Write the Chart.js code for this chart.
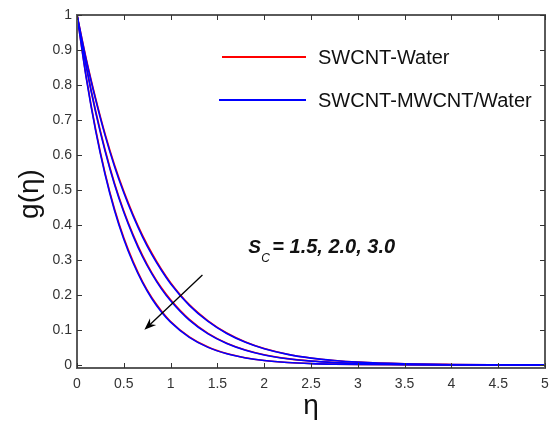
<!DOCTYPE html>
<html>
<head>
<meta charset="utf-8">
<script src="https://cdn.jsdelivr.net/npm/chart.js@4/dist/chart.umd.min.js"></script>
<style>
  html, body { margin: 0; padding: 0; background: #fff; overflow: hidden; }
  #wrap { width: 549px; height: 423px; position: relative; }
  canvas { display: block; }
</style>
</head>
<body>
<div id="wrap"><canvas id="gChart"></canvas></div>
<script>
// --- data ---
const eta = [0, 0.1, 0.2, 0.3, 0.4, 0.5, 0.6, 0.7, 0.8, 0.9, 1.0, 1.2, 1.4, 1.6, 1.8, 2.0, 2.25, 2.5, 2.75, 3.0, 3.5, 4.0, 4.5, 5.0];

// Sc = 3.0 (lowest curve)
const hybridSc30 = [1, 0.818, 0.668, 0.544, 0.442, 0.359, 0.291, 0.235, 0.189, 0.152, 0.122, 0.0786, 0.050, 0.0316, 0.0198, 0.0123, 0.0067, 0.0036, 0.0019, 0.001, 0.0002, 0, 0, 0];
const waterSc30  = [1, 0.821, 0.672, 0.548, 0.446, 0.363, 0.295, 0.238, 0.192, 0.155, 0.124, 0.080, 0.051, 0.0323, 0.0203, 0.0126, 0.0069, 0.0037, 0.002, 0.001, 0.0002, 0, 0, 0];
// Sc = 2.0
const hybridSc20 = [1, 0.850, 0.721, 0.611, 0.516, 0.436, 0.368, 0.309, 0.260, 0.218, 0.183, 0.1276, 0.0885, 0.061, 0.0418, 0.0284, 0.0174, 0.0106, 0.0064, 0.0038, 0.0013, 0.0004, 0.0001, 0];
const waterSc20  = [1, 0.853, 0.725, 0.615, 0.520, 0.440, 0.372, 0.313, 0.263, 0.221, 0.186, 0.130, 0.090, 0.062, 0.0426, 0.029, 0.0178, 0.0108, 0.0066, 0.0039, 0.0013, 0.0004, 0.0001, 0];
// Sc = 1.5 (highest curve)
const hybridSc15 = [1, 0.870, 0.757, 0.656, 0.568, 0.492, 0.425, 0.366, 0.315, 0.271, 0.232, 0.170, 0.124, 0.0896, 0.0644, 0.046, 0.030, 0.0193, 0.0123, 0.0077, 0.003, 0.0011, 0.0004, 0.0001];
const waterSc15  = [1, 0.873, 0.761, 0.660, 0.572, 0.496, 0.429, 0.370, 0.319, 0.274, 0.235, 0.172, 0.126, 0.091, 0.0655, 0.0468, 0.0305, 0.0197, 0.0125, 0.0078, 0.003, 0.0011, 0.0004, 0.0001];

const xTicks = [0, 0.5, 1, 1.5, 2, 2.5, 3, 3.5, 4, 4.5, 5];
const yTicks = [0, 0.1, 0.2, 0.3, 0.4, 0.5, 0.6, 0.7, 0.8, 0.9, 1];
const legendLabels = ['SWCNT-Water', 'SWCNT-MWCNT/Water'];
const annotationText = '= 1.5, 2.0, 3.0';
// arrow in data units: [eta, g] start -> tip
const arrowFrom = [1.34, 0.257];
const arrowTo = [0.72, 0.100];

const RED = '#ff0000';
const BLUE = '#0000ff';
const FONT = '"Liberation Sans", Arial, sans-serif';

function toPoints(ys) {
    return eta.map((x, i) => ({ x: x, y: ys[i] }));
}

function curve(ys, color, order) {
    return {
        data: toPoints(ys),
        borderColor: color,
        borderWidth: 1.6,
        pointRadius: 0,
        fill: false,
        cubicInterpolationMode: 'monotone',
        order: order
    };
}

// frame, inward ticks, titles, legend, annotation
const decorPlugin = {
    id: 'decor',
    afterDraw(chart) {
        const ctx = chart.ctx;
        const xs = chart.scales.x, ys = chart.scales.y;
        const a = chart.chartArea;
        ctx.save();

        // box
        ctx.strokeStyle = '#5a5a5a';
        ctx.lineWidth = 2;
        ctx.strokeRect(a.left, a.top, a.right - a.left, a.bottom - a.top);

        // inward ticks
        ctx.strokeStyle = '#333';
        ctx.lineWidth = 1;
        ctx.beginPath();
        xTicks.forEach(v => {
            const px = Math.round(xs.getPixelForValue(v)) + 0.5;
            ctx.moveTo(px, a.bottom); ctx.lineTo(px, a.bottom - 5);
            ctx.moveTo(px, a.top); ctx.lineTo(px, a.top + 5);
        });
        yTicks.forEach(v => {
            const py = Math.round(ys.getPixelForValue(v)) + 0.5;
            ctx.moveTo(a.left, py); ctx.lineTo(a.left + 5, py);
            ctx.moveTo(a.right, py); ctx.lineTo(a.right - 5, py);
        });
        ctx.stroke();

        // axis titles
        ctx.fillStyle = '#111';
        ctx.font = '28px ' + FONT;
        ctx.textAlign = 'center';
        ctx.textBaseline = 'middle';
        ctx.fillText('\u03b7', (a.left + a.right) / 2, 406);
        ctx.save();
        ctx.translate(30, 194);
        ctx.rotate(-Math.PI / 2);
        ctx.fillText('g(\u03b7)', 0, 0);
        ctx.restore();

        // legend
        const legendColors = [RED, BLUE];
        const legendY = [57, 100];
        ctx.font = '20px ' + FONT;
        ctx.textAlign = 'left';
        legendLabels.forEach((lab, i) => {
            ctx.strokeStyle = legendColors[i];
            ctx.lineWidth = 2;
            ctx.beginPath();
            ctx.moveTo(i === 0 ? 222 : 219, legendY[i]);
            ctx.lineTo(306, legendY[i]);
            ctx.stroke();
            ctx.fillStyle = '#111';
            ctx.fillText(lab, 318, legendY[i] + 1);
        });

        // arrow
        const x1 = xs.getPixelForValue(arrowFrom[0]), y1 = ys.getPixelForValue(arrowFrom[1]);
        const x2 = xs.getPixelForValue(arrowTo[0]), y2 = ys.getPixelForValue(arrowTo[1]);
        const ang = Math.atan2(y2 - y1, x2 - x1);
        ctx.strokeStyle = '#000';
        ctx.fillStyle = '#000';
        ctx.lineWidth = 1.3;
        ctx.beginPath();
        ctx.moveTo(x1, y1);
        ctx.lineTo(x2 - 6 * Math.cos(ang), y2 - 6 * Math.sin(ang));
        ctx.stroke();
        ctx.beginPath();
        ctx.moveTo(x2, y2);
        ctx.lineTo(x2 - 12 * Math.cos(ang) + 4.5 * Math.sin(ang), y2 - 12 * Math.sin(ang) - 4.5 * Math.cos(ang));
        ctx.lineTo(x2 - 8 * Math.cos(ang), y2 - 8 * Math.sin(ang));
        ctx.lineTo(x2 - 12 * Math.cos(ang) - 4.5 * Math.sin(ang), y2 - 12 * Math.sin(ang) + 4.5 * Math.cos(ang));
        ctx.closePath();
        ctx.fill();

        // S_C annotation
        const sx = xs.getPixelForValue(1.83), sy = ys.getPixelForValue(0.32);
        ctx.fillStyle = '#111';
        ctx.textBaseline = 'alphabetic';
        ctx.font = 'italic bold 19px ' + FONT;
        ctx.fillText('S', sx, sy);
        ctx.font = 'italic 12px ' + FONT;
        ctx.fillText('C', sx + 13, sy + 9);
        ctx.font = 'italic bold 20px ' + FONT;
        ctx.fillText(annotationText, sx + 24, sy);

        ctx.restore();
    }
};

const chart = new Chart(document.getElementById('gChart').getContext('2d'), {
    type: 'line',
    data: {
        datasets: [
            curve(hybridSc30, BLUE, 1),
            curve(hybridSc20, BLUE, 1),
            curve(hybridSc15, BLUE, 1),
            curve(waterSc30, RED, 2),
            curve(waterSc20, RED, 2),
            curve(waterSc15, RED, 2)
        ]
    },
    options: {
        responsive: true,
        maintainAspectRatio: false,
        animation: false,
        events: [],
        layout: { padding: { left: 0, top: 15, right: 4, bottom: 0 } },
        plugins: {
            legend: { display: false },
            tooltip: { enabled: false }
        },
        scales: {
            x: {
                type: 'linear',
                min: 0,
                max: 5,
                afterFit: scale => {
                    scale.height = 55;
                    scale.paddingLeft = 0;
                    scale.paddingRight = 0;
                },
                afterBuildTicks: scale => { scale.ticks = xTicks.map(v => ({ value: v })); },
                grid: { display: false, drawTicks: false },
                border: { display: false },
                ticks: {
                    padding: 8,
                    maxRotation: 0,
                    autoSkip: false,
                    color: '#333',
                    font: { family: FONT, size: 14 },
                    callback: v => String(Math.round(v * 10) / 10)
                }
            },
            y: {
                type: 'linear',
                min: -0.009,
                max: 1,
                afterFit: scale => {
                    scale.width = 77;
                    scale.paddingTop = 0;
                    scale.paddingBottom = 0;
                },
                afterBuildTicks: scale => { scale.ticks = yTicks.map(v => ({ value: v })); },
                grid: { display: false, drawTicks: false },
                border: { display: false },
                ticks: {
                    padding: 5,
                    autoSkip: false,
                    color: '#333',
                    font: { family: FONT, size: 14 },
                    callback: v => String(Math.round(v * 10) / 10)
                }
            }
        }
    },
    plugins: [decorPlugin]
});
</script>
</body>
</html>
